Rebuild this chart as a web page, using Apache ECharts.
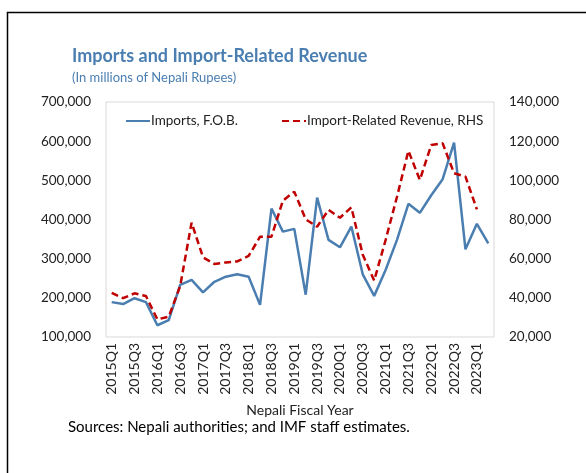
<!DOCTYPE html>
<html>
<head>
<meta charset="utf-8">
<script src="https://cdn.jsdelivr.net/npm/echarts@6/dist/echarts.min.js"></script>
<style>
  html, body { margin: 0; padding: 0; background: #fff; }
  #chart { width: 586px; height: 473px; }
</style>
</head>
<body>
<div id="chart"></div>
<script>
// Quarterly categories (Nepali fiscal year)
const quarters = [
  '2015Q1','2015Q2','2015Q3','2015Q4',
  '2016Q1','2016Q2','2016Q3','2016Q4',
  '2017Q1','2017Q2','2017Q3','2017Q4',
  '2018Q1','2018Q2','2018Q3','2018Q4',
  '2019Q1','2019Q2','2019Q3','2019Q4',
  '2020Q1','2020Q2','2020Q3','2020Q4',
  '2021Q1','2021Q2','2021Q3','2021Q4',
  '2022Q1','2022Q2','2022Q3','2022Q4',
  '2023Q1','2023Q2'
];

// Imports, F.O.B. (millions of NPR, left axis)
const imports = [
  189000, 184000, 199000, 189000,
  130000, 143000, 233000, 246000,
  214000, 241000, 254000, 260000,
  254000, 182000, 428000, 369000,
  376000, 208000, 456000, 348000,
  329000, 382000, 260000, 205000,
  271000, 348000, 440000, 417000,
  462000, 503000, 596000, 324000,
  389000, 339000
];

// Import-related revenue (millions of NPR, right axis)
const revenue = [
  42500, 39800, 42300, 40900,
  29000, 30400, 46000, 78400,
  60700, 57300, 58100, 58600,
  61400, 71200, 71200, 89600,
  94200, 80100, 76300, 84900,
  80900, 86200, 62000, 48800,
  69500, 91600, 115100, 100200,
  118000, 118900, 103600, 101900,
  85200, null
];

// Axis ranges
const leftAxis = { min: 100000, max: 700000, step: 100000 };
const rightAxis = { min: 20000, max: 140000, step: 20000 };

const FONT = 'Lato, "Open Sans", sans-serif';
const BLUE = '#4a7eb1';
const RED = '#c00000';
const fmt = v => String(v).replace(/\B(?=(\d{3})+(?!\d))/g, ',');

const chart = echarts.init(document.getElementById('chart'), null, { renderer: 'canvas' });

const legendBase = {
  itemWidth: 24, itemHeight: 10, itemGap: 4,
  itemStyle: { color: 'transparent', borderColor: 'transparent', borderWidth: 0 },
  textStyle: { fontFamily: FONT, fontSize: 13.5, color: '#222', padding: [0, 0, 0, -4] }
};

chart.setOption({
  animation: false,
  backgroundColor: '#ffffff',
  textStyle: { fontFamily: FONT },
  title: [
    {
      text: 'Imports and Import-Related Revenue',
      left: 67, top: 42, padding: [5, 5, 5, 5],
      textStyle: { fontFamily: FONT, fontSize: 18, fontWeight: 'bold', color: BLUE }
    },
    {
      text: '(In millions of Nepali Rupees)',
      left: 67, top: 66,
      textStyle: { fontFamily: FONT, fontSize: 13, fontWeight: 'normal', color: BLUE }
    }
  ],
  graphic: [
    {
      type: 'rect', silent: true, z: -1,
      shape: { x: 7.5, y: 12.5, width: 700, height: 600 },
      style: { fill: 'none', stroke: '#000', lineWidth: 1.5 }
    },
    {
      type: 'text', left: 68, top: 420,
      style: {
        text: 'Sources: Nepali authorities; and IMF staff estimates.',
        fontFamily: FONT, fontSize: 15, fill: '#000'
      }
    }
  ],
  legend: [
    Object.assign({ data: ['Imports, F.O.B.'], left: 120, top: 109 }, legendBase),
    Object.assign({ data: ['Import-Related Revenue, RHS'], left: 276, top: 109 }, legendBase)
  ],
  grid: {
    left: 106, top: 102, right: 92, bottom: 136,
    show: true, borderColor: '#d9d9d9', borderWidth: 1, containLabel: false
  },
  xAxis: {
    type: 'category',
    data: quarters,
    boundaryGap: true,
    name: 'Nepali Fiscal Year',
    nameLocation: 'middle',
    nameGap: 66,
    nameTextStyle: { fontFamily: FONT, fontSize: 14, color: '#222' },
    axisLine: { show: false },
    axisTick: { show: false },
    axisLabel: {
      interval: 1, rotate: 90, margin: 6,
      fontFamily: FONT, fontSize: 14, color: '#222'
    },
    splitLine: { show: false }
  },
  yAxis: [
    {
      type: 'value',
      min: leftAxis.min, max: leftAxis.max, interval: leftAxis.step,
      axisLine: { show: false }, axisTick: { show: false },
      splitLine: { show: false },
      axisLabel: { margin: 15, fontFamily: FONT, fontSize: 13.5, color: '#222', formatter: fmt }
    },
    {
      type: 'value',
      min: rightAxis.min, max: rightAxis.max, interval: rightAxis.step,
      axisLine: { show: false }, axisTick: { show: false },
      splitLine: { show: false },
      axisLabel: { margin: 15, fontFamily: FONT, fontSize: 13.5, color: '#222', formatter: fmt }
    }
  ],
  series: [
    {
      name: 'Imports, F.O.B.',
      type: 'line',
      yAxisIndex: 0,
      data: imports,
      symbol: 'none',
      lineStyle: { color: BLUE, width: 2.5 },
      itemStyle: { color: BLUE },
      z: 3
    },
    {
      name: 'Import-Related Revenue, RHS',
      type: 'line',
      yAxisIndex: 1,
      data: revenue,
      symbol: 'none',
      connectNulls: false,
      lineStyle: { color: RED, width: 2.5, type: [7, 4] },
      itemStyle: { color: RED },
      z: 4
    }
  ]
});
</script>
</body>
</html>
